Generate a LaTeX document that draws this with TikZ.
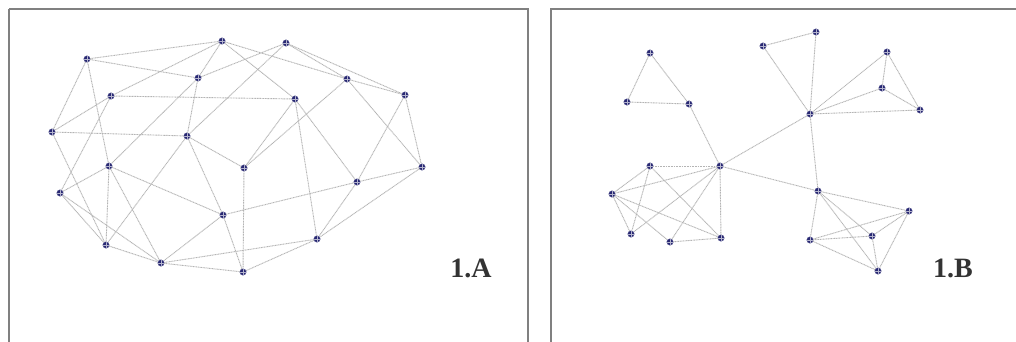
\documentclass[tikz,border=0pt]{standalone}
\usepackage{fontspec}
\setmainfont{Liberation Serif}
\definecolor{nodeblue}{RGB}{40,40,115}
\definecolor{edgegray}{RGB}{180,180,180}
\definecolor{framegray}{RGB}{128,128,128}
\tikzset{
  dotnode/.style={circle, inner sep=0pt, minimum size=6.5pt, fill=nodeblue, draw=nodeblue!80, line width=0.3pt,
    path picture={\draw[nodeblue!35!white, line width=0.5pt]
      (path picture bounding box.north) -- (path picture bounding box.south)
      (path picture bounding box.west) -- (path picture bounding box.east);}},
  edge/.style={draw=edgegray, line width=0.9pt, dash pattern=on 1pt off 0.6pt},
  framebox/.style={draw=framegray, line width=2.4pt},
  panellabel/.style={font=\bfseries\fontsize{28}{28}\selectfont, text=black!80, inner sep=0pt}
}
\begin{document}
\begin{tikzpicture}[x=1pt,y=-1pt]
\useasboundingbox (0,0) rectangle (1016,341);
\fill[white] (0,0) rectangle (1016,341);
% frames
\draw[framebox] (9,9) -- (528,9) -- (528,350) (9,350) -- (9,9);
\draw[framebox] (1030,9) -- (551,9) -- (551,350);
% panel A nodes
\node[dotnode] (a1) at (87,59) {};
\node[dotnode] (a2) at (222,41) {};
\node[dotnode] (a3) at (198,78) {};
\node[dotnode] (a4) at (111,96) {};
\node[dotnode] (a5) at (52,132) {};
\node[dotnode] (a6) at (187,136) {};
\node[dotnode] (a7) at (109,166) {};
\node[dotnode] (a8) at (244,168) {};
\node[dotnode] (a9) at (286,43) {};
\node[dotnode] (a10) at (347,79) {};
\node[dotnode] (a11) at (295,99) {};
\node[dotnode] (a12) at (405,95) {};
\node[dotnode] (a13) at (422,167) {};
\node[dotnode] (a14) at (60,193) {};
\node[dotnode] (a15) at (223,215) {};
\node[dotnode] (a16) at (106,245) {};
\node[dotnode] (a17) at (161,263) {};
\node[dotnode] (a18) at (243,272) {};
\node[dotnode] (a19) at (357,182) {};
\node[dotnode] (a20) at (317,239) {};
% panel A edges
\foreach \u/\v in {a1/a2,a1/a3,a1/a5,a1/a7,
  a2/a3,a2/a4,a2/a10,a2/a11,
  a3/a6,a3/a7,a3/a9,
  a4/a5,a4/a11,a4/a14,
  a5/a6,a5/a16,
  a6/a8,a6/a9,a6/a15,a6/a16,
  a7/a14,a7/a15,a7/a16,a7/a17,
  a8/a10,a8/a11,a8/a18,
  a9/a10,a9/a12,
  a10/a12,a10/a13,
  a11/a19,a11/a20,
  a12/a13,a12/a19,
  a13/a19,a13/a20,
  a14/a16,a14/a17,
  a15/a17,a15/a18,a15/a19,
  a16/a17,a17/a18,a17/a20,a18/a20,a19/a20}
  \draw[edge] (\u) -- (\v);
% panel B nodes
\node[dotnode] (b1) at (650,53) {};
\node[dotnode] (b2) at (627,102) {};
\node[dotnode] (b3) at (689,104) {};
\node[dotnode] (b4) at (763,46) {};
\node[dotnode] (b5) at (720,166) {};
\node[dotnode] (b6) at (650,166) {};
\node[dotnode] (b7) at (816,32) {};
\node[dotnode] (b8) at (887,52) {};
\node[dotnode] (b9) at (882,88) {};
\node[dotnode] (b10) at (920,110) {};
\node[dotnode] (b11) at (810,114) {};
\node[dotnode] (b12) at (612,194) {};
\node[dotnode] (b13) at (631,234) {};
\node[dotnode] (b14) at (670,242) {};
\node[dotnode] (b15) at (721,238) {};
\node[dotnode] (b16) at (818,191) {};
\node[dotnode] (b17) at (909,211) {};
\node[dotnode] (b18) at (872,236) {};
\node[dotnode] (b19) at (810,240) {};
\node[dotnode] (b20) at (878,271) {};
% panel B edges
\foreach \u/\v in {b1/b2,b1/b3,b2/b3,b3/b5,
  b4/b7,b4/b11,b7/b11,
  b11/b8,b11/b9,b11/b10,b8/b9,b8/b10,b9/b10,
  b5/b11,b11/b16,b5/b16,
  b5/b6,b5/b12,b5/b13,b5/b14,b5/b15,
  b6/b12,b6/b13,b6/b15,
  b12/b13,b12/b14,b12/b15,b14/b15,
  b16/b17,b16/b19,b16/b18,b16/b20,
  b19/b17,b19/b18,b19/b20,b17/b18,b17/b20,b18/b20}
  \draw[edge] (\u) -- (\v);
% labels
\node[panellabel] (la) at (471,268) {1.A};
\node[panellabel] (lb) at (953,268) {1.B};
\end{tikzpicture}
\end{document}
